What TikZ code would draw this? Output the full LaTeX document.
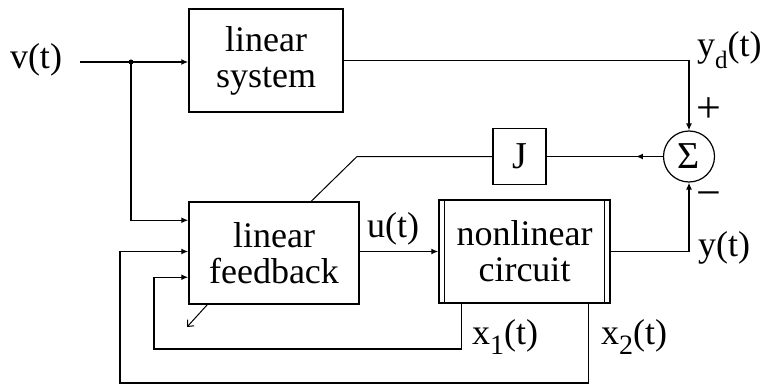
\documentclass[tikz,border=0pt]{standalone}
\usepackage{fontspec}
\setmainfont{Liberation Serif}
\usetikzlibrary{arrows.meta,calc}
\begin{document}
\begin{tikzpicture}[x=1pt,y=-1pt,
  box/.style={draw,line width=1.5pt,rectangle,inner sep=0pt,align=center,
    font=\fontsize{36}{36}\selectfont},
  lbl/.style={inner sep=0pt,font=\fontsize{36}{36}\selectfont},
  conn/.style={line width=1.4pt},
  arr/.style={conn,-{Latex[length=7pt,width=6pt]}},
  thinl/.style={line width=1pt}]
\useasboundingbox (0,0) rectangle (765,385);
% blocks
\node[box,minimum width=154pt,minimum height=103pt] (linsys) at (266,60.5) {linear\\system};
\node[box,minimum width=170pt,minimum height=102pt] (linfb) at (274,253) {linear\\feedback};
\node[box,minimum width=171pt,minimum height=103pt] (nlc) at (524.5,251.5) {nonlinear\\circuit};
\node[box,minimum width=53pt,minimum height=56pt,font=\fontsize{38}{38}\selectfont] (J) at (519.5,156.5) {J};
\node[draw,circle,line width=1.2pt,minimum size=51pt,inner sep=0pt,
  font=\fontsize{38}{38}\selectfont] (sum) at (689,156.5) {Σ};
% inner double lines of nonlinear circuit
\draw[line width=1.2pt] ([xshift=6pt]nlc.north west) -- ([xshift=6pt]nlc.south west);
\draw[line width=1.2pt] ([xshift=-6pt]nlc.north east) -- ([xshift=-6pt]nlc.south east);
% labels
\node[lbl] (vt) at (36,60) {v(t)};
\node[lbl,anchor=west] (ydt) at (697,50) {y\raisebox{-12pt}{\fontsize{25}{25}\selectfont d}(t)};
\node[lbl,font=\fontsize{44}{44}\selectfont] (plus) at (709,110) {+};
\node[lbl,font=\fontsize{44}{44}\selectfont] (minus) at (709,200) {−};
\node[lbl,anchor=west] (yt) at (698,248) {y(t)};
\node[lbl] (ut) at (393,229) {u(t)};
\node[lbl] (x1t) at (505,337) {x\raisebox{-10pt}{\fontsize{28}{28}\selectfont 1}(t)};
\node[lbl] (x2t) at (634,337) {x\raisebox{-10pt}{\fontsize{28}{28}\selectfont 2}(t)};
% coordinates
\coordinate (vstart) at (80,62);
\coordinate (split) at (131,62);
\coordinate (fbin1) at ([yshift=-19pt]linfb.north west);
\coordinate (fbin2) at (linfb.west |- nlc.west);
\coordinate (fbin3) at ([yshift=-76pt]linfb.north west);
\coordinate (x2corner) at (120,383);
\coordinate (x1corner) at (154,349);
\coordinate (bend) at (357,156.5);
\coordinate (dtip) at (187,327);
% connectors
\draw[arr] (vstart) -- (vstart -| linsys.west);
\fill (split) circle (2.5pt);
\draw[arr] (split) |- (fbin1);
\draw[arr] (linsys.east) -| (sum.north);
\draw[arr] (nlc.east) -| (sum.south);
\draw[arr] (nlc.west -| linfb.east) -- (nlc.west);
\draw[conn] (sum.west) -- (J.east);
\draw[arr] (sum.west) -- ++(-27,0);
\draw[thinl] (J.west) -- (bend) -- ([xshift=123pt]linfb.north west);
\draw[arr] ([xshift=-22pt]nlc.south east) |- (x2corner) |- (fbin2);
\draw[arr] ([xshift=23pt]nlc.south west) |- (x1corner) |- (fbin3);
\draw[thinl,-{Straight Barb[length=5pt,width=9pt]}] ([xshift=19pt]linfb.south west) -- (dtip);
\end{tikzpicture}
\end{document}
